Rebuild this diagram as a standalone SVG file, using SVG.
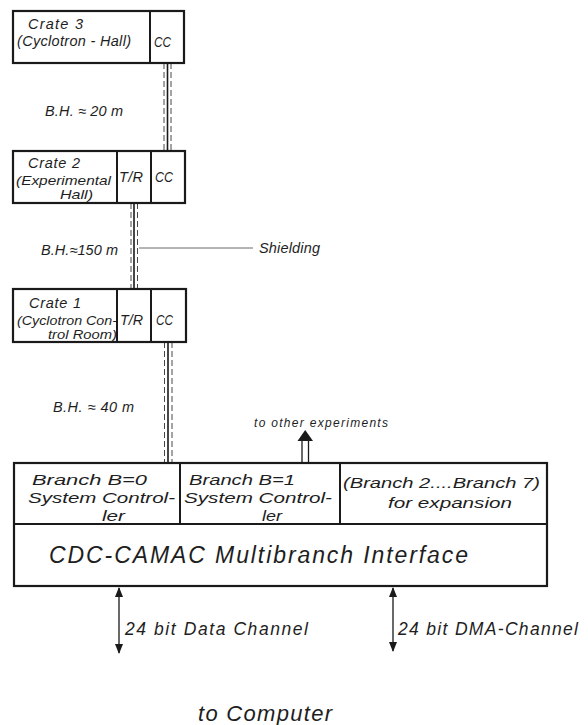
<svg xmlns="http://www.w3.org/2000/svg" width="588" height="725" viewBox="0 0 588 725">
<defs>
<style>
.box{fill:#fff;stroke:#1a1a1a;stroke-width:2.2}
.div{fill:none;stroke:#1a1a1a;stroke-width:2}
.t{font-family:"Liberation Sans",Arial,sans-serif;font-style:italic;fill:#1e1e1e}
.s12{font-size:12px}
.s13{font-size:13.5px}
.s14{font-size:14.5px}
.cc{font-size:14px}
.s16{font-size:15.5px}
.s17{font-size:17.5px}
.s22{font-size:22px}
.s23{font-size:23px}
.solid{stroke:#1a1a1a;stroke-width:1.6;fill:none}
.dash{stroke:#333;stroke-width:0.9;stroke-dasharray:6 3;fill:none}
.thin{stroke:#444;stroke-width:0.8;fill:none}
.arr{stroke:#1a1a1a;stroke-width:1.3;fill:none}
</style>
<marker id="ah" viewBox="0 0 10 8" refX="9" refY="4" markerWidth="10" markerHeight="8" markerUnits="userSpaceOnUse" orient="auto-start-reverse">
<path d="M0,0 L10,4 L0,8 Z" fill="#1a1a1a"/>
</marker>
</defs>
<rect width="588" height="725" fill="#fff"/>

<g id="connectors">
<line class="solid" x1="167.5" y1="63" x2="167.5" y2="151"/>
<line class="dash" x1="164" y1="63" x2="164" y2="151"/>
<line class="dash" x1="171" y1="63" x2="171" y2="151"/>
<line class="solid" x1="134" y1="203" x2="134" y2="289"/>
<line class="dash" x1="131" y1="203" x2="131" y2="289"/>
<line class="dash" x1="137.5" y1="203" x2="137.5" y2="289"/>
<line class="solid" x1="168" y1="342" x2="168" y2="463"/>
<line class="dash" x1="164.5" y1="342" x2="164.5" y2="463"/>
<line class="dash" x1="172" y1="342" x2="172" y2="463"/>
<line class="thin" x1="139" y1="248" x2="253" y2="248"/>
<line class="arr" x1="302" y1="462" x2="302" y2="441"/>
<line class="arr" x1="308.5" y1="462" x2="308.5" y2="441"/>
<path d="M297.5,441 L313,441 L305.2,430 Z" fill="#1a1a1a"/>
<line class="arr" x1="119" y1="588" x2="119" y2="653" marker-start="url(#ah)" marker-end="url(#ah)"/>
<line class="arr" x1="393" y1="588" x2="393" y2="651" marker-start="url(#ah)" marker-end="url(#ah)"/>
</g>

<g id="crate3">
<rect class="box" x="13" y="11" width="171" height="52"/>
<line class="div" x1="150" y1="11" x2="150" y2="63"/>
<text class="t s14" x="28" y="29" textLength="55" lengthAdjust="spacing">Crate  3</text>
<text class="t s14" x="17" y="46" textLength="114" lengthAdjust="spacing">(Cyclotron - Hall)</text>
<text class="t cc" x="154" y="47" textLength="17" lengthAdjust="spacingAndGlyphs">CC</text>
</g>

<g id="bh20"><text class="t s14" x="45" y="116" textLength="78" lengthAdjust="spacing">B.H. ≈ 20 m</text></g>

<g id="crate2">
<rect class="box" x="13" y="151" width="172" height="52"/>
<line class="div" x1="117" y1="151" x2="117" y2="203"/>
<line class="div" x1="151" y1="151" x2="151" y2="203"/>
<text class="t s14" x="28" y="168" textLength="52" lengthAdjust="spacing">Crate 2</text>
<text class="t s13" x="16" y="184.5" textLength="95" lengthAdjust="spacingAndGlyphs">(Experimental</text>
<text class="t s13" x="60" y="199" textLength="33" lengthAdjust="spacingAndGlyphs">Hall)</text>
<text class="t s14" x="119" y="182" textLength="24" lengthAdjust="spacing">T/R</text>
<text class="t cc" x="155" y="182" textLength="18" lengthAdjust="spacingAndGlyphs">CC</text>
</g>

<g id="bh150"><text class="t s14" x="41" y="255" textLength="77" lengthAdjust="spacing">B.H.≈150 m</text></g>
<g id="shielding"><text class="t s14" x="259" y="253" textLength="61" lengthAdjust="spacing">Shielding</text></g>

<g id="crate1">
<rect class="box" x="13" y="289" width="173" height="53"/>
<line class="div" x1="117" y1="289" x2="117" y2="342"/>
<line class="div" x1="151" y1="289" x2="151" y2="342"/>
<text class="t s14" x="29" y="308" textLength="52" lengthAdjust="spacing">Crate 1</text>
<text class="t s13" x="17" y="324.5" textLength="100" lengthAdjust="spacingAndGlyphs">(Cyclotron Con-</text>
<text class="t s13" x="48" y="339" textLength="69" lengthAdjust="spacingAndGlyphs">trol Room)</text>
<text class="t s14" x="120" y="325" textLength="23" lengthAdjust="spacingAndGlyphs">T/R</text>
<text class="t cc" x="156" y="325" textLength="17" lengthAdjust="spacingAndGlyphs">CC</text>
</g>

<g id="bh40"><text class="t s14" x="53" y="412" textLength="81" lengthAdjust="spacing">B.H. ≈ 40 m</text></g>

<g id="other"><text class="t s12" x="254" y="427" textLength="134" lengthAdjust="spacing">to other experiments</text></g>

<g id="interface">
<rect class="box" x="14" y="463" width="533" height="123"/>
<line class="div" x1="14" y1="524" x2="547" y2="524"/>
<line class="div" x1="180" y1="463" x2="180" y2="524"/>
<line class="div" x1="340" y1="463" x2="340" y2="524"/>
<text class="t s16" x="32" y="485" textLength="115" lengthAdjust="spacingAndGlyphs">Branch  B=0</text>
<text class="t s16" x="28" y="503" textLength="147" lengthAdjust="spacingAndGlyphs">System Control-</text>
<text class="t s16" x="102" y="521" textLength="23" lengthAdjust="spacingAndGlyphs">ler</text>
<text class="t s16" x="189" y="485" textLength="106" lengthAdjust="spacingAndGlyphs">Branch B=1</text>
<text class="t s16" x="184" y="503" textLength="148" lengthAdjust="spacingAndGlyphs">System Control-</text>
<text class="t s16" x="262" y="521" textLength="20" lengthAdjust="spacingAndGlyphs">ler</text>
<text class="t s16" x="343" y="488" textLength="197" lengthAdjust="spacingAndGlyphs">(Branch 2....Branch 7)</text>
<text class="t s16" x="388" y="508" textLength="124" lengthAdjust="spacingAndGlyphs">for expansion</text>
<text class="t s23" x="49" y="563" textLength="419" lengthAdjust="spacing">CDC-CAMAC  Multibranch  Interface</text>
</g>

<g id="labels">
<text class="t s17" x="125" y="635" textLength="183" lengthAdjust="spacing">24 bit  Data  Channel</text>
<text class="t s17" x="398" y="635" textLength="180" lengthAdjust="spacing">24 bit  DMA-Channel</text>
<text class="t s22" x="198" y="721" textLength="134" lengthAdjust="spacing">to Computer</text>
</g>
</svg>
